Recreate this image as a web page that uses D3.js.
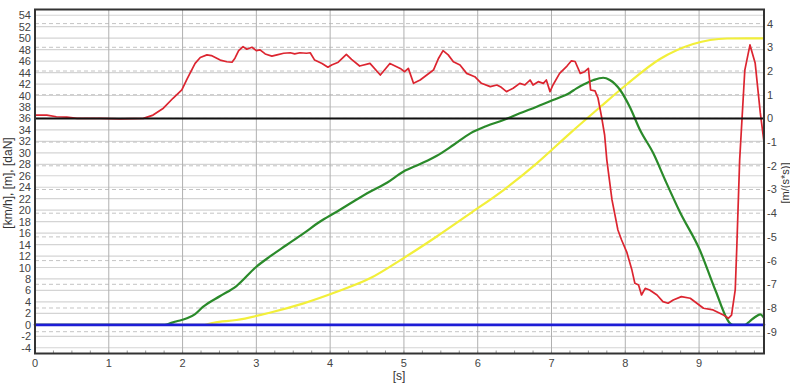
<!DOCTYPE html>
<html>
<head>
<meta charset="utf-8">
<script src="https://cdn.jsdelivr.net/npm/d3@7"></script>
<style>
  html, body { margin: 0; padding: 0; background: #ffffff; }
  svg { display: block; }
  text { font-family: "Liberation Sans", Arial, sans-serif; }
</style>
</head>
<body>
<svg id="chart" width="790" height="383"></svg>
<script>
// ---------- data ----------
const xTicks = [0, 1, 2, 3, 4, 5, 6, 7, 8, 9];
const leftTicks = d3.range(-4, 55, 2);
const rightTicks = [-9, -8, -7, -6, -5, -4, -3, -2, -1, 0, 1, 2, 3, 4];

// acceleration [m/(s*s)] (right axis)
const accTime = [0, 0.16, 0.29, 0.43, 0.57, 0.88, 1.15, 1.47, 1.60, 1.74, 1.87, 1.99, 2.06, 2.10, 2.17, 2.24, 2.33, 2.39, 2.51, 2.60,
  2.67, 2.71, 2.76, 2.82, 2.87, 2.94, 3.00, 3.05, 3.12, 3.21, 3.28, 3.37, 3.46, 3.52, 3.59, 3.68, 3.73, 3.79, 3.89, 3.97,
  4.02, 4.11, 4.22, 4.29, 4.40, 4.54, 4.68, 4.81, 4.95, 5.01, 5.06, 5.13, 5.22, 5.31, 5.40, 5.47, 5.53, 5.60, 5.67, 5.76,
  5.85, 5.96, 6.05, 6.17, 6.26, 6.32, 6.39, 6.48, 6.57, 6.64, 6.71, 6.75, 6.82, 6.89, 6.93, 6.98, 7.02, 7.11, 7.21, 7.27,
  7.32, 7.39, 7.45, 7.50, 7.53, 7.59, 7.63, 7.68, 7.72, 7.75, 7.82, 7.90, 7.95, 8.02, 8.09, 8.13, 8.18, 8.22, 8.27, 8.33,
  8.43, 8.51, 8.58, 8.65, 8.76, 8.88, 8.97, 9.06, 9.19, 9.33, 9.40, 9.44, 9.49, 9.51, 9.55, 9.62, 9.69, 9.76, 9.83, 9.88];
const accValues = [0.14, 0.14, 0.07, 0.05, 0.0, 0.0, -0.02, 0.0, 0.14, 0.43, 0.85, 1.20, 1.66, 1.90, 2.32, 2.57, 2.68, 2.65, 2.46, 2.39,
  2.37, 2.54, 2.86, 3.03, 2.92, 3.00, 2.86, 2.89, 2.72, 2.63, 2.68, 2.75, 2.77, 2.72, 2.77, 2.75, 2.77, 2.46, 2.32, 2.16,
  2.25, 2.37, 2.70, 2.49, 2.21, 2.32, 1.83, 2.32, 2.11, 1.97, 2.11, 1.48, 1.62, 1.83, 2.04, 2.54, 2.86, 2.68, 2.39, 2.25,
  1.90, 1.76, 1.48, 1.34, 1.41, 1.31, 1.13, 1.27, 1.48, 1.41, 1.62, 1.41, 1.55, 1.48, 1.62, 1.13, 1.41, 1.90, 2.21, 2.43,
  2.40, 1.90, 1.97, 2.11, 1.20, 1.16, 0.86, 0.04, -0.70, -1.76, -3.44, -4.71, -5.13, -5.64, -6.40, -6.96, -7.03, -7.45, -7.17, -7.24,
  -7.45, -7.73, -7.80, -7.66, -7.52, -7.59, -7.80, -8.01, -8.08, -8.30, -8.43, -8.30, -7.24, -5.55, -1.76, 2.04, 3.10, 2.34, 0.23, -1.00];

// speed [km/h] (left axis)
const speedTime = [0, 1.76, 1.83, 1.91, 2.06, 2.17, 2.28, 2.51, 2.73, 3.00, 3.18, 3.41, 3.64, 3.86, 4.09, 4.31, 4.54, 4.77, 4.99, 5.22,
  5.44, 5.67, 5.90, 6.12, 6.35, 6.57, 6.80, 7.02, 7.25, 7.34, 7.45, 7.57, 7.70, 7.79, 7.93, 8.06, 8.20, 8.38, 8.54, 8.74,
  9.01, 9.22, 9.42, 9.46, 9.62, 9.69, 9.76, 9.83, 9.88];
const speedValues = [0, 0, 0.26, 0.58, 1.13, 1.88, 3.16, 5.02, 6.77, 10.13, 11.88, 13.92, 15.96, 17.98, 19.73, 21.47, 23.22, 24.79, 26.71, 28.05,
  29.44, 31.36, 33.40, 34.68, 35.72, 36.89, 38.04, 39.21, 40.48, 41.25, 42.00, 42.70, 43.10, 42.70, 40.96, 38.04, 33.98, 29.91, 25.26, 19.68,
  13.05, 6.07, 0.26, 0, 0, 0.66, 1.36, 1.83, 1.19];

// distance [m] (left axis)
const distTime = [0, 2.30, 2.42, 2.73, 3.18, 3.64, 4.09, 4.54, 4.99, 5.44, 5.90, 6.35, 6.80, 7.25, 7.66, 8.01, 8.47, 8.92, 9.15, 9.38, 9.88];
const distValues = [0, 0, 0.37, 0.84, 2.11, 3.75, 5.77, 8.11, 11.60, 15.37, 19.45, 23.51, 28.17, 33.40, 37.99, 41.83, 46.36, 48.98, 49.68, 49.94, 49.97];

// force [daN] (left axis)
const forceTime = [0, 9.88];
const forceValues = [0, 0];

// ---------- layout ----------
const plot = { left: 35, right: 764, top: 9.5, bottom: 353.5 };

const x = d3.scaleLinear().domain([0, 9.88]).range([plot.left, plot.right]);
const yL = d3.scaleLinear().domain([-5, 55]).range([plot.bottom, plot.top]);
const yR = d3.scaleLinear().domain([-9.92, 4.595]).range([plot.bottom, plot.top]);

const svg = d3.select("#chart");

// gridlines: left (solid), right (dashed), vertical (solid)
const grid = svg.append("g");
grid.selectAll("line.gl").data(leftTicks).enter().append("line")
  .attr("x1", plot.left).attr("x2", plot.right)
  .attr("y1", d => yL(d)).attr("y2", d => yL(d))
  .attr("stroke", "#d4d4d4").attr("stroke-width", 1.2);
grid.selectAll("line.gr").data(rightTicks).enter().append("line")
  .attr("x1", plot.left).attr("x2", plot.right)
  .attr("y1", d => yR(d)).attr("y2", d => yR(d))
  .attr("stroke", "#c4c4c4").attr("stroke-width", 1)
  .attr("stroke-dasharray", "4,3");
grid.selectAll("line.gv").data(xTicks.filter(d => d > 0)).enter().append("line")
  .attr("x1", d => x(d)).attr("x2", d => x(d))
  .attr("y1", plot.top).attr("y2", plot.bottom)
  .attr("stroke", "#b0b0b0").attr("stroke-width", 1);

// minor ticks on bottom
const minor = d3.range(0.25, 9.88, 0.25);
grid.selectAll("line.mt").data(minor).enter().append("line")
  .attr("x1", d => x(d)).attr("x2", d => x(d))
  .attr("y1", plot.bottom - 3).attr("y2", plot.bottom)
  .attr("stroke", "#999").attr("stroke-width", 1);

const lineOf = (ts, vs, y, curve) => d3.line()
  .x((d, i) => x(ts[i])).y(d => y(d)).curve(curve || d3.curveLinear)(vs);

const series = svg.append("g").attr("fill", "none").attr("stroke-linejoin", "round").attr("stroke-linecap", "round");
series.append("path").attr("d", lineOf(distTime, distValues, yL, d3.curveMonotoneX))
  .attr("stroke", "#f2ef3a").attr("stroke-width", 2.2);
series.append("path").attr("d", lineOf(speedTime, speedValues, yL, d3.curveMonotoneX))
  .attr("stroke", "#2a8a2a").attr("stroke-width", 2.2);
series.append("path").attr("d", lineOf(forceTime, forceValues, yL))
  .attr("stroke", "#1d1dd6").attr("stroke-width", 2.6);
series.append("path").attr("d", lineOf(accTime, accValues, yR))
  .attr("stroke", "#dc2530").attr("stroke-width", 1.7);

// zero line of right axis
svg.append("line")
  .attr("x1", plot.left).attr("x2", plot.right)
  .attr("y1", yR(0)).attr("y2", yR(0))
  .attr("stroke", "#111").attr("stroke-width", 2);

// frame
svg.append("rect")
  .attr("x", plot.left).attr("y", plot.top)
  .attr("width", plot.right - plot.left).attr("height", plot.bottom - plot.top)
  .attr("fill", "none").attr("stroke", "#333").attr("stroke-width", 2);

// axis labels
const lab = svg.append("g").attr("font-size", 11).attr("fill", "#444");
lab.selectAll("text.xl").data(xTicks).enter().append("text")
  .attr("x", d => x(d)).attr("y", 367).attr("text-anchor", "middle").text(d => d);
lab.selectAll("text.yl").data(leftTicks).enter().append("text")
  .attr("x", 31).attr("y", d => yL(d) + 4).attr("text-anchor", "end").text(d => d);
lab.selectAll("text.yr").data(rightTicks).enter().append("text")
  .attr("x", 767).attr("y", d => yR(d) + 4).attr("text-anchor", "start").text(d => d);

// titles
svg.append("text").attr("x", 399).attr("y", 380).attr("text-anchor", "middle")
  .attr("font-size", 12).attr("fill", "#333").text("[s]");
svg.append("text").attr("transform", "translate(12,183) rotate(-90)").attr("text-anchor", "middle")
  .attr("font-size", 12).attr("fill", "#333").text("[km/h], [m], [daN]");
svg.append("text").attr("transform", "translate(789,183) rotate(-90)").attr("text-anchor", "middle")
  .attr("font-size", 11).attr("fill", "#333").text("[m/(s*s)]");
</script>
</body>
</html>
